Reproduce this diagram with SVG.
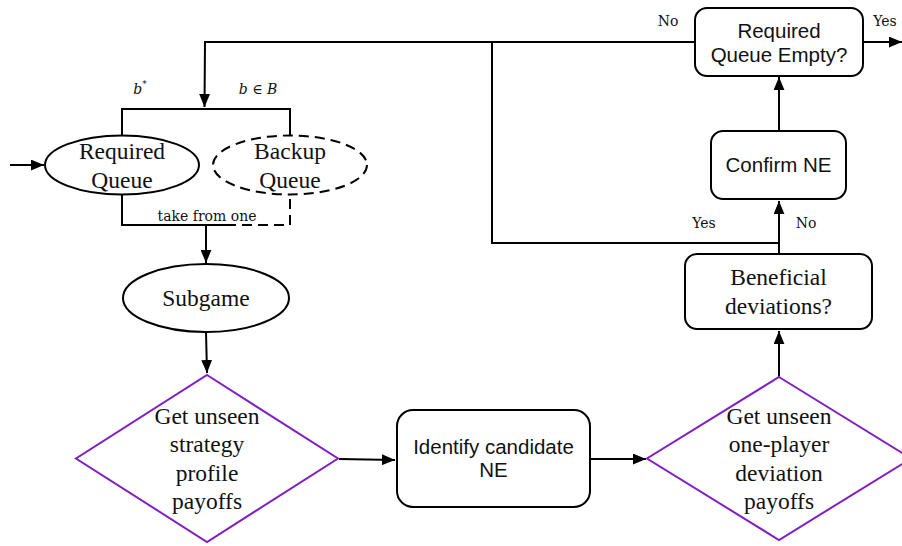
<svg xmlns="http://www.w3.org/2000/svg" width="902" height="546" viewBox="0 0 902 546">
  <style>
    .edge { fill: none; stroke: #000; stroke-width: 2; }
    .dash { stroke-dasharray: 10 6; }
    .box { fill: #fff; stroke: #000; stroke-width: 2; }
    .dia { fill: #fff; stroke: #7f1fc4; stroke-width: 2; }
    .serif { font-family: "Liberation Serif", "Times New Roman", serif; font-size: 23.5px; fill: #111; text-anchor: middle; }
    .sans { font-family: "Liberation Sans", Arial, sans-serif; font-size: 20.5px; fill: #111; text-anchor: middle; }
    .lbl { font-family: "DejaVu Serif", "Liberation Serif", serif; font-size: 14px; fill: #111; text-anchor: middle; }
    .it { font-style: italic; }
  </style>
  <defs>
    <marker id="arrowL" viewBox="0 0 12 10" refX="12" refY="5" markerWidth="13" markerHeight="11" orient="auto" markerUnits="userSpaceOnUse">
      <path d="M0,0 L12,5 L0,10 z" fill="#000"/>
    </marker>
  </defs>

  <!-- connectors -->
  <g id="connectors">
    <path class="edge" d="M10,165 H44" marker-end="url(#arrowL)"/>
    <path class="edge" d="M695,42 H205 L204.5,107" marker-end="url(#arrowL)"/>
    <path class="edge" d="M122,136 V109 H290 V136"/>
    <path class="edge" d="M122,195 V225 H226"/>
    <path class="edge dash" d="M226,225 H290 V195"/>
    <path class="edge" d="M206,225 V263" marker-end="url(#arrowL)"/>
    <path class="edge" d="M206,332 L207,373" marker-end="url(#arrowL)"/>
    <path class="edge" d="M339,459 L395,460" marker-end="url(#arrowL)"/>
    <path class="edge" d="M590,459 H646" marker-end="url(#arrowL)"/>
    <path class="edge" d="M779,377 V331" marker-end="url(#arrowL)"/>
    <path class="edge" d="M779,254 V201" marker-end="url(#arrowL)"/>
    <path class="edge" d="M779,243 H492 V42"/>
    <path class="edge" d="M779,131 V77" marker-end="url(#arrowL)"/>
    <path class="edge" d="M863,42 H902" marker-end="url(#arrowL)"/>
    <text class="lbl it" x="140" y="94">b<tspan font-size="9" dy="-7">*</tspan></text>
    <text class="lbl it" x="258" y="94">b ∈ B</text>
    <text class="lbl" x="207" y="221">take from one</text>
    <text class="lbl" x="704" y="228">Yes</text>
    <text class="lbl" x="806" y="228">No</text>
    <text class="lbl" x="668" y="26">No</text>
    <text class="lbl" x="885" y="26">Yes</text>
  </g>

  <g id="required-queue">
    <ellipse class="box" cx="122" cy="165" rx="77" ry="29.5"/>
    <text class="serif" x="122" y="159">Required</text>
    <text class="serif" x="122" y="188">Queue</text>
  </g>

  <g id="backup-queue">
    <ellipse class="box dash" cx="290" cy="165" rx="77" ry="29.5"/>
    <text class="serif" x="290" y="159">Backup</text>
    <text class="serif" x="290" y="188">Queue</text>
  </g>

  <g id="subgame">
    <ellipse class="box" cx="206" cy="298" rx="83" ry="34"/>
    <text class="serif" x="206" y="306">Subgame</text>
  </g>

  <g id="strategy-payoffs">
    <polygon class="dia" points="207,375 338,458.5 207,542 76,458.5"/>
    <text class="serif" x="207" y="424">Get unseen</text>
    <text class="serif" x="207" y="452">strategy</text>
    <text class="serif" x="207" y="481">profile</text>
    <text class="serif" x="207" y="509">payoffs</text>
  </g>

  <g id="candidate-ne">
    <rect class="box" x="397" y="410" width="193" height="97" rx="16"/>
    <text class="sans" x="493.5" y="454">Identify candidate</text>
    <text class="sans" x="493.5" y="477">NE</text>
  </g>

  <g id="deviation-payoffs">
    <polygon class="dia" points="779,377 911,458.5 779,540 647,458.5"/>
    <text class="serif" x="779" y="424">Get unseen</text>
    <text class="serif" x="779" y="452">one-player</text>
    <text class="serif" x="779" y="481">deviation</text>
    <text class="serif" x="779" y="509">payoffs</text>
  </g>

  <g id="beneficial-deviations">
    <rect class="box" x="685" y="254" width="187" height="75" rx="12"/>
    <text class="serif" x="778.5" y="285">Beneficial</text>
    <text class="serif" x="778.5" y="314">deviations?</text>
  </g>

  <g id="confirm-ne">
    <rect class="box" x="711" y="131" width="135" height="68" rx="12"/>
    <text class="sans" x="778.5" y="172">Confirm NE</text>
  </g>

  <g id="queue-empty">
    <rect class="box" x="695" y="8" width="168" height="68" rx="12"/>
    <text class="sans" x="779" y="38">Required</text>
    <text class="sans" x="779" y="62">Queue Empty?</text>
  </g>
</svg>
